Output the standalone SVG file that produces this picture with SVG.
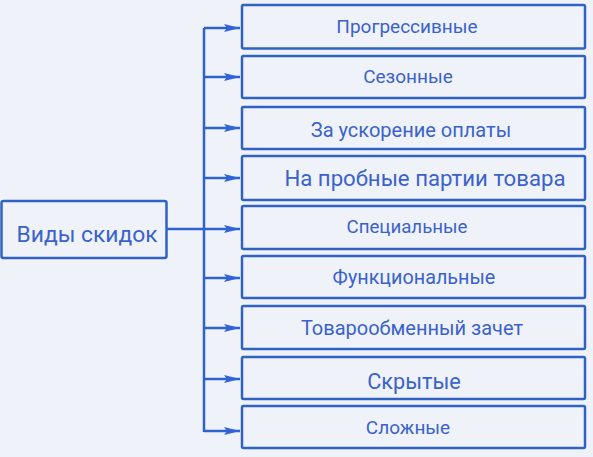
<svg xmlns="http://www.w3.org/2000/svg" width="593" height="457" viewBox="0 0 593 457">
<defs>
<style>
.box{fill:#eff3f9;stroke:#2f62c2;stroke-width:2.5}
.t{font-family:Roboto,"Noto Sans",sans-serif;fill:#3b62cc;text-anchor:middle}
.ln{fill:none;stroke:#2f62cc;stroke-width:2.5}
</style>
<marker id="ah" viewBox="0 0 16 10" refX="16" refY="5" markerWidth="16" markerHeight="10" markerUnits="userSpaceOnUse" orient="auto">
<path d="M0,1 L16,5 L0,9 L3,5 Z" fill="#2f62dd"/>
</marker>
</defs>
<rect width="593" height="457" fill="#eff3f9"/>
<g id="connectors">
<path class="ln" d="M166,229 H204"/>
<path class="ln" d="M204,28 V432"/>
<path class="ln" d="M204,28 H240" marker-end="url(#ah)"/>
<path class="ln" d="M204,77 H240" marker-end="url(#ah)"/>
<path class="ln" d="M204,128 H240" marker-end="url(#ah)"/>
<path class="ln" d="M204,178 H240" marker-end="url(#ah)"/>
<path class="ln" d="M204,229 H240" marker-end="url(#ah)"/>
<path class="ln" d="M204,278 H240" marker-end="url(#ah)"/>
<path class="ln" d="M204,328 H240" marker-end="url(#ah)"/>
<path class="ln" d="M204,379 H240" marker-end="url(#ah)"/>
<path class="ln" d="M204,431 H240" marker-end="url(#ah)"/>
</g>
<g id="root">
<rect class="box" x="1.5" y="201" width="165" height="57" rx="2"/>
<text class="t" x="87" y="242" font-size="22.8">Виды скидок</text>
</g>
<g id="n1"><rect class="box" x="242" y="5" width="343" height="43.5" rx="1.5"/><text class="t" x="407" y="33" font-size="19">Прогрессивные</text></g>
<g id="n2"><rect class="box" x="242" y="56" width="343" height="42" rx="1.5"/><text class="t" x="408" y="83" font-size="19">Сезонные</text></g>
<g id="n3"><rect class="box" x="242" y="107" width="343" height="42" rx="1.5"/><text class="t" x="411" y="137" font-size="20">За ускорение оплаты</text></g>
<g id="n4"><rect class="box" x="242" y="156" width="343" height="44" rx="1.5"/><text class="t" x="425" y="186" font-size="22.2">На пробные партии товара</text></g>
<g id="n5"><rect class="box" x="242" y="206" width="343" height="43" rx="1.5"/><text class="t" x="407" y="233" font-size="18.7">Специальные</text></g>
<g id="n6"><rect class="box" x="242" y="256" width="343" height="42" rx="1.5"/><text class="t" x="414" y="284" font-size="19.8">Функциональные</text></g>
<g id="n7"><rect class="box" x="242" y="306" width="343" height="43" rx="1.5"/><text class="t" x="412" y="335" font-size="20">Товарообменный зачет</text></g>
<g id="n8"><rect class="box" x="242" y="357" width="343" height="42" rx="1.5"/><text class="t" x="414" y="389" font-size="21.7">Скрытые</text></g>
<g id="n9"><rect class="box" x="242" y="406" width="343" height="42" rx="1.5"/><text class="t" x="408" y="434" font-size="19">Сложные</text></g>
</svg>
